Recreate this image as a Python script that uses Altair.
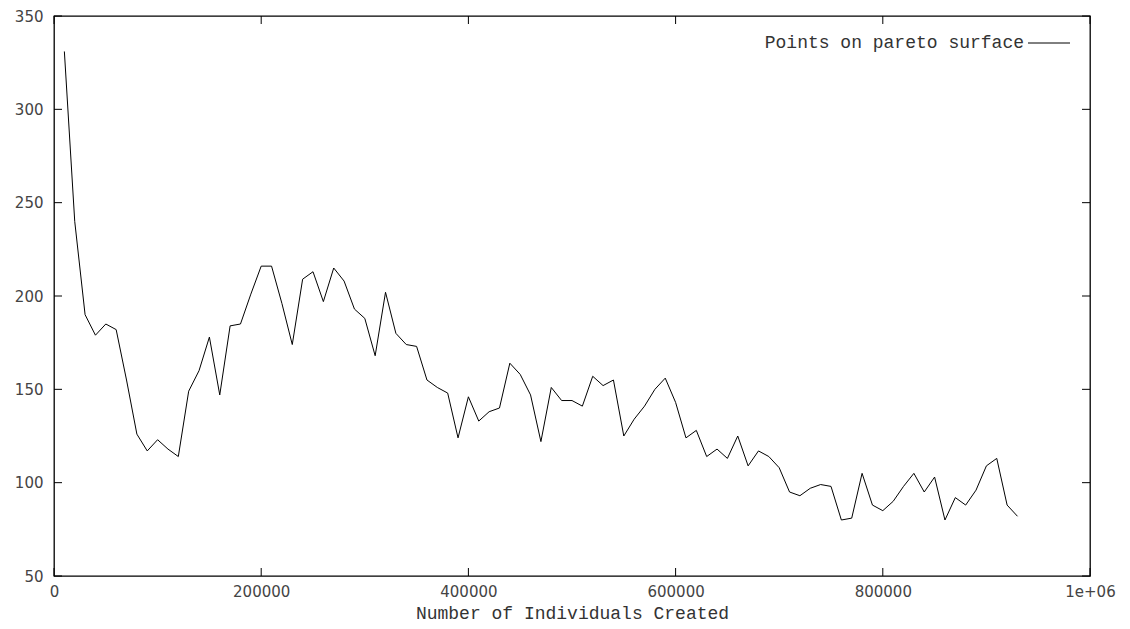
import altair as alt
import pandas as pd

individuals = list(range(10000, 940000, 10000))
points = [331, 240, 190, 179, 185, 182, 155, 126, 117, 123,
          118, 114, 149, 160, 178, 147, 184, 185, 201, 216,
          216, 196, 174, 209, 213, 197, 215, 208, 193, 188,
          168, 202, 180, 174, 173, 155, 151, 148, 124, 146,
          133, 138, 140, 164, 158, 147, 122, 151, 144, 144,
          141, 157, 152, 155, 125, 134, 141, 150, 156, 143,
          124, 128, 114, 118, 113, 125, 109, 117, 114, 108,
          95, 93, 97, 99, 98, 80, 81, 105, 88, 85,
          90, 98, 105, 95, 103, 80, 92, 88, 96, 109,
          113, 88, 82]
x_ticks = [0, 200000, 400000, 600000, 800000, 1000000]
y_ticks = [50, 100, 150, 200, 250, 300, 350]
series_label = "Points on pareto surface"
x_title = "Number of Individuals Created"

W, H = 1036, 560
TICK = 8

df = pd.DataFrame({"individuals": individuals, "points": points})
xt = pd.DataFrame({"individuals": x_ticks})
yt = pd.DataFrame({"points": y_ticks})

xscale = alt.Scale(domain=[0, 1000000], nice=False, zero=False)
yscale = alt.Scale(domain=[50, 350], nice=False, zero=False)

xaxis = alt.Axis(values=x_ticks, title=x_title, ticks=False, domain=False, grid=False,
                 labelExpr="datum.value == 1000000 ? '1e+06' : format(datum.value, 'd')",
                 labelFont="DejaVu Sans", labelFontSize=15, labelColor="#444444",
                 labelPadding=8, labelFlush=False, labelOverlap=False,
                 titleFont="Liberation Mono", titleFontSize=18, titleFontWeight="normal",
                 titleColor="#333333", titlePadding=5)
yaxis = alt.Axis(values=y_ticks, title=None, ticks=False, domain=False, grid=False,
                 labelFont="DejaVu Sans", labelFontSize=15, labelColor="#444444",
                 labelPadding=11, labelFlush=False, labelOverlap=False)

X = alt.X("individuals:Q", scale=xscale, axis=xaxis)
Y = alt.Y("points:Q", scale=yscale, axis=yaxis)

line = alt.Chart(df).mark_line(color="black", strokeWidth=1).encode(x=X, y=Y)

yl = alt.Chart(yt).mark_rule(color="black", strokeWidth=1).encode(
    y=Y, x=alt.value(0), x2=alt.value(TICK))
yr = alt.Chart(yt).mark_rule(color="black", strokeWidth=1).encode(
    y=Y, x=alt.value(W - TICK), x2=alt.value(W))
xb = alt.Chart(xt).mark_rule(color="black", strokeWidth=1).encode(
    x=X, y=alt.value(H - TICK), y2=alt.value(H))
xtop = alt.Chart(xt).mark_rule(color="black", strokeWidth=1).encode(
    x=X, y=alt.value(0), y2=alt.value(TICK))

leg = pd.DataFrame({"label": [series_label]})
leg_text = alt.Chart(leg).mark_text(align="right", baseline="middle", font="Liberation Mono",
                                    fontSize=18, color="#333333").encode(
    x=alt.value(970), y=alt.value(27), text="label:N")
leg_line = alt.Chart(leg).mark_rule(color="black", strokeWidth=1).encode(
    x=alt.value(974), x2=alt.value(1016), y=alt.value(27))

chart = alt.layer(line, yl, yr, xb, xtop, leg_text, leg_line).properties(
    width=W, height=H,
    autosize=alt.AutoSizeParams(type="none"),
    padding={"left": 54, "top": 16, "right": 40, "bottom": 53},
    background="white",
).configure_view(stroke="black", strokeWidth=1.3)

chart.save("out.html", embed_options={"renderer": "svg", "actions": False})
